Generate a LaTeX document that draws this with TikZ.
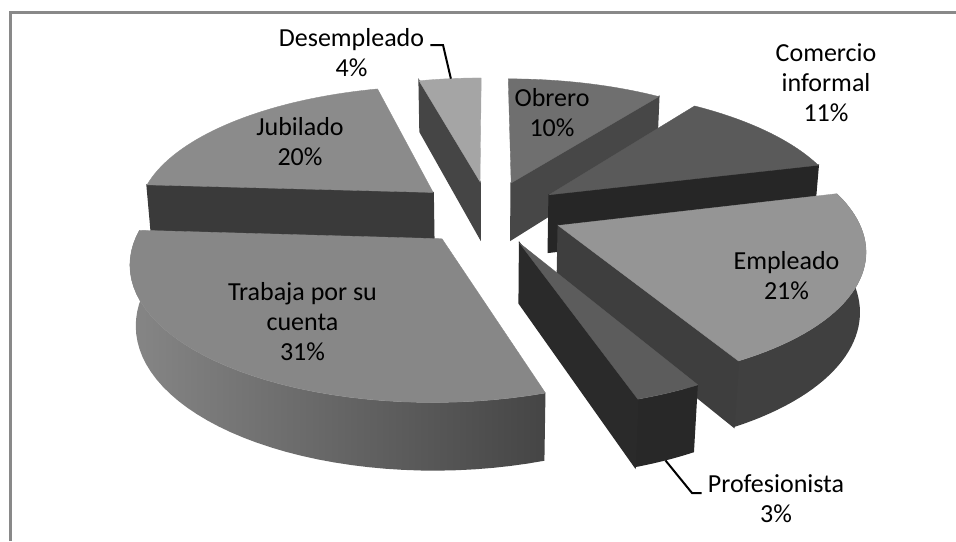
\documentclass[tikz,border=0pt]{standalone}
\usepackage{fontspec}
\setmainfont{Carlito}
\usepackage{ifthen}
\definecolor{frameGray}{HTML}{898989}
\definecolor{obrTop}{HTML}{6F6F6F}
\definecolor{obrFace}{HTML}{474747}
\definecolor{desTop}{HTML}{A5A5A5}
\definecolor{desFace}{HTML}{454545}
\definecolor{comTop}{HTML}{5A5A5A}
\definecolor{comFace}{HTML}{262626}
\definecolor{jubTop}{HTML}{8B8B8B}
\definecolor{jubFace}{HTML}{3A3A3A}
\definecolor{empTop}{HTML}{959595}
\definecolor{empFace}{HTML}{3E3E3E}
\definecolor{empSide}{HTML}{404040}
\definecolor{traTop}{HTML}{878787}
\definecolor{traSideL}{HTML}{868686}
\definecolor{traSideR}{HTML}{454545}
\definecolor{proTop}{HTML}{5C5C5C}
\definecolor{proFace}{HTML}{2A2A2A}
\definecolor{proSide}{HTML}{282828}
\tikzset{
	lbl/.style={align=center, inner ysep=0pt, inner xsep=0.12cm, font=\fontsize{14.8}{17.1}\selectfont},
	lead/.style={draw=black, line width=0.04cm},
	frame/.style={draw=frameGray, line width=0.05cm}}

\begin{document}
\begin{tikzpicture}[x=0.02cm, y=-0.02cm,
	declare function={
		wx(\an,\ra,\mm)=\pe*sin(\mm)+\ra*sin(\an);
		wz(\an,\ra,\mm)=\pe*cos(\mm)+\ra*cos(\an);
		dep(\an,\ra,\yy,\mm)=\pd+wz(\an,\ra,\mm)*cos(\pa)-\yy*sin(\pa);
		sx(\an,\ra,\yy,\mm)=\pcx+\pfx*wx(\an,\ra,\mm)/dep(\an,\ra,\yy,\mm);
		sy(\an,\ra,\yy,\mm)=\pcy-\pf*(\yy*cos(\pa)+wz(\an,\ra,\mm)*sin(\pa))/dep(\an,\ra,\yy,\mm);}]
\def\pcx{489}
\def\pcy{212.5}
\def\pf{1765}
\def\pfx{1720}
\def\pd{5.787}
\def\pa{25}
\def\pe{0.25}
\def\ph{0.215}

\useasboundingbox (0,0) rectangle (956,541);
\draw[frame] (10.5,541) -- (10.5,12.5) -- (956,12.5);

% slices from back to front: start/end/top/start face/end face/side
\foreach \angA/\angB/\ctop/\cfa/\cfb/\csa/\csb in {
	0/36/obrTop/none/obrFace/none/none,
	345.6/360/desTop/desFace/none/none/none,
	36/75.6/comTop/none/comFace/none/none,
	273.6/345.6/jubTop/jubFace/none/none/none,
	75.6/151.2/empTop/none/empFace/empSide/empSide,
	162/273.6/traTop/none/none/traSideL/traSideR,
	151.2/162/proTop/none/proFace/proSide/proSide}
{
	\pgfmathsetmacro\md{(\angA+\angB)/2}
	\ifthenelse{\equal{\csa}{none}}{}{
		\shade[left color=\csa, right color=\csb]
		plot[domain=\angA:\angB, samples=40, variable=\q] ({sx(\q,1,0,\md)},{sy(\q,1,0,\md)})
		-- plot[domain=\angB:\angA, samples=40, variable=\q] ({sx(\q,1,-\ph,\md)},{sy(\q,1,-\ph,\md)}) -- cycle;}
	\filldraw[fill=\cfa, draw=\cfa, line width=0.8pt] ({sx(0,0,0,\md)},{sy(0,0,0,\md)}) -- ({sx(\angA,1,0,\md)},{sy(\angA,1,0,\md)})
	-- ({sx(\angA,1,-\ph,\md)},{sy(\angA,1,-\ph,\md)}) -- ({sx(0,0,-\ph,\md)},{sy(0,0,-\ph,\md)}) -- cycle;
	\filldraw[fill=\cfb, draw=\cfb, line width=0.8pt] ({sx(0,0,0,\md)},{sy(0,0,0,\md)}) -- ({sx(\angB,1,0,\md)},{sy(\angB,1,0,\md)})
	-- ({sx(\angB,1,-\ph,\md)},{sy(\angB,1,-\ph,\md)}) -- ({sx(0,0,-\ph,\md)},{sy(0,0,-\ph,\md)}) -- cycle;
	\filldraw[fill=\ctop, draw=\ctop, line width=0.2pt] ({sx(0,0,0,\md)},{sy(0,0,0,\md)})
	-- plot[domain=\angA:\angB, samples=40, variable=\q] ({sx(\q,1,0,\md)},{sy(\q,1,0,\md)}) -- cycle;
}

\node[lbl] (lDes) at (351.5,52.5) {Desempleado\\4\%};
\node[lbl] (lObr) at (552,112.5) {Obrero\\10\%};
\node[lbl] (lCom) at (826,83) {Comercio\\informal\\11\%};
\node[lbl] (lJub) at (300,141.5) {Jubilado\\20\%};
\node[lbl] (lTra) at (302.5,321.5) {Trabaja por su\\cuenta\\31\%};
\node[lbl] (lEmp) at (786.5,276) {Empleado\\21\%};
\node[lbl] (lPro) at (776,498.5) {Profesionista\\3\%};

\coordinate (pDes) at ({sx(353,1,0,352.8)},{sy(353,1,0,352.8)});
\coordinate (kDes) at (443,45);
\draw[lead] (pDes) -- (kDes) -- (kDes -| lDes.east);
\coordinate (pPro) at ({sx(156.6,1,-\ph,156.6)},{sy(156.6,1,-\ph,156.6)});
\coordinate (kPro) at (692,493);
\draw[lead] (pPro) -- (kPro) -- (kPro -| lPro.west);
\end{tikzpicture}
\end{document}
